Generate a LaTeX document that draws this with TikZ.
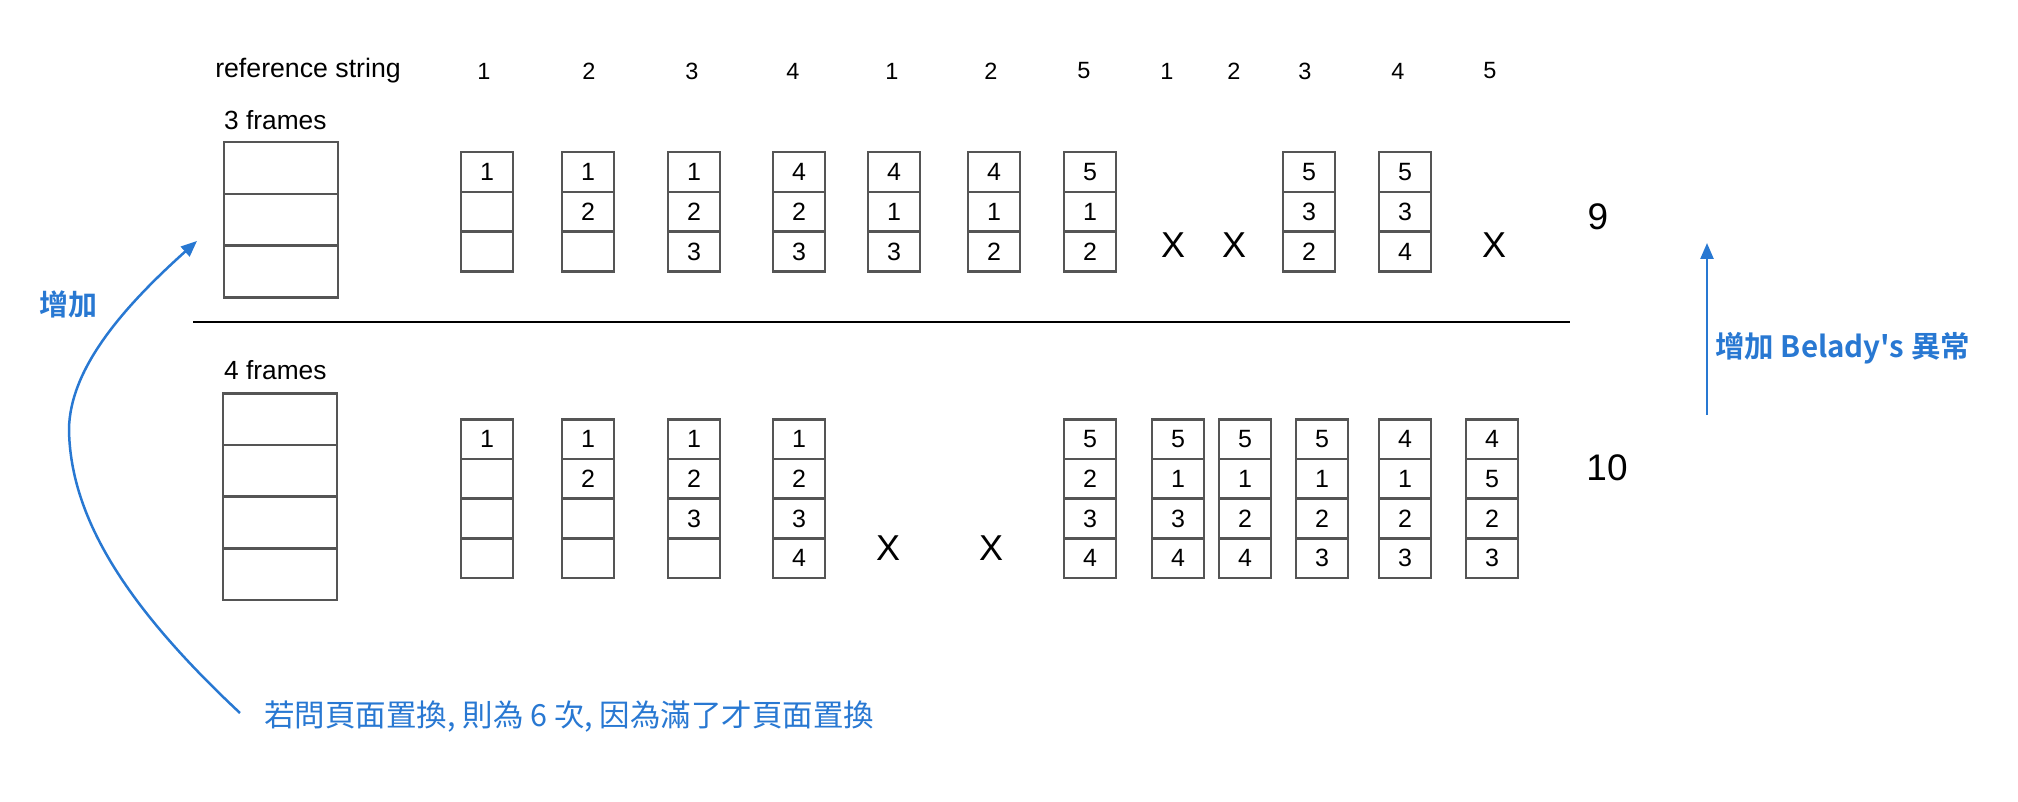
\documentclass[tikz,border=0pt]{standalone}
\usepackage{fontspec}
\setmainfont{Liberation Sans}
\newfontfamily\cjk{Noto Sans CJK TC}
\newfontfamily\cjkb{Noto Sans CJK TC Bold}
\usetikzlibrary{arrows.meta}
\definecolor{boxgray}{RGB}{85,85,85}
\definecolor{annblue}{RGB}{40,120,210}
\tikzset{
  cell/.style={draw=boxgray, line width=2.5pt, minimum width=52pt, minimum height=39.7pt,
    inner sep=0pt, anchor=north, font=\fontsize{25}{25}\selectfont},
  bigcell/.style={draw=boxgray, line width=2.5pt, minimum width=114pt, minimum height=51.7pt,
    inner sep=0pt, anchor=north},
  refnum/.style={font=\fontsize{23.5}{23.5}\selectfont, inner sep=0pt},
  miss/.style={font=\fontsize{36}{36}\selectfont, inner sep=0pt},
  total/.style={font=\fontsize{37}{37}\selectfont, inner sep=0pt},
  lbl/.style={font=\fontsize{26.3}{26.3}\selectfont, inner sep=0pt, anchor=west},
  blueline/.style={draw=annblue, line width=2.5pt, -{Triangle[length=16pt,width=13pt]}},
  bluetxt/.style={text=annblue, inner sep=0pt}
}
\newcommand\framecol[4]{%
  \foreach \v [count=\k] in {#4} {\node[cell] (#1-\k) at (#2, {#3+(\k-1)*39.7}) {\v};}}
\newcommand\bigcol[4]{%
  \foreach \k in {1,...,#4} {\node[bigcell] (#1-\k) at (#2, {#3+(\k-1)*51.7}) {};}}
\begin{document}
\begin{tikzpicture}[x=1pt,y=-1pt]
\useasboundingbox (0,0) rectangle (2018,802);

% header
\node[font=\fontsize{26.7}{26.7}\selectfont, inner sep=0pt] (refstr) at (308,71) {reference string};
\foreach \x/\n [count=\i] in {484/1,589/2,692/3,793/4,892/1,991/2,1084/5,1167/1,1234/2,1305/3,1398/4,1490/5}
  {\node[refnum] (r\i) at (\x,71) {\n};}

% 3 frames
\node[lbl] (lab3) at (224,120) {3 frames};
\bigcol{big3}{281}{141}{3}
\framecol{t1}{487}{151}{1,{},{}}
\framecol{t2}{588}{151}{1,2,{}}
\framecol{t3}{694}{151}{1,2,3}
\framecol{t4}{799}{151}{4,2,3}
\framecol{t5}{894}{151}{4,1,3}
\framecol{t6}{994}{151}{4,1,2}
\framecol{t7}{1090}{151}{5,1,2}
\node[miss] (tx8) at (1173,245) {X};
\node[miss] (tx9) at (1234,245) {X};
\framecol{t10}{1309}{151}{5,3,2}
\framecol{t11}{1405}{151}{5,3,4}
\node[miss] (tx12) at (1494,245) {X};
\node[total] (n9) at (1598,217) {9};

% separator
\coordinate (sepL) at (193,322);
\coordinate (sepR) at (1570,322);
\draw[line width=2.5pt] (sepL) -- (sepR);

% 4 frames
\node[lbl] (lab4) at (224,370) {4 frames};
\bigcol{big4}{280}{392}{4}
\framecol{b1}{487}{418}{1,{},{},{}}
\framecol{b2}{588}{418}{1,2,{},{}}
\framecol{b3}{694}{418}{1,2,3,{}}
\framecol{b4}{799}{418}{1,2,3,4}
\node[miss] (bx5) at (888,548) {X};
\node[miss] (bx6) at (991,548) {X};
\framecol{b7}{1090}{418}{5,2,3,4}
\framecol{b8}{1178}{418}{5,1,3,4}
\framecol{b9}{1245}{418}{5,1,2,4}
\framecol{b10}{1322}{418}{5,1,2,3}
\framecol{b11}{1405}{418}{4,1,2,3}
\framecol{b12}{1492}{418}{4,5,2,3}
\node[total] (n10) at (1607,468) {10};

% annotations
\node[bluetxt, anchor=west, font=\cjk\fontsize{30.5}{30.5}\selectfont] (note) at (264,717)
  {若問頁面置換, 則為 6 次, 因為滿了才頁面置換};
\coordinate (cstart) at (240,713);
\coordinate (cmid) at (69,429);
\coordinate (ctip) at (197,241);
\draw[blueline] (cstart) .. controls (130,610) and (70,520) .. (cmid)
  .. controls (70,370) and (120,310) .. (ctip);
\node[bluetxt, font=\cjkb\fontsize{29}{29}\selectfont] (inc) at (68,304) {增加};

\coordinate (aB) at (1707,415);
\coordinate (aT) at (1707,243);
\draw[blueline] (aB) -- (aT);
\node[bluetxt, anchor=west, font=\cjkb\fontsize{29.5}{29.5}\selectfont] (belady) at (1715,348) {增加 Belady's 異常};
\end{tikzpicture}
\end{document}
